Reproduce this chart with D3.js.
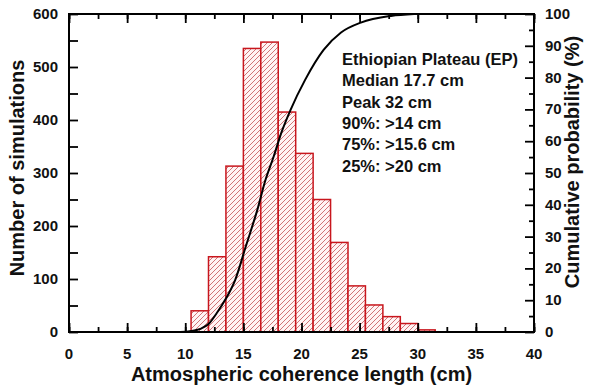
<!DOCTYPE html>
<html>
<head>
<meta charset="utf-8">
<script src="https://cdn.jsdelivr.net/npm/d3@7"></script>
<style>
  body { margin: 0; background: #fff; }
  text { font-family: "Liberation Sans", Arial, sans-serif; font-weight: bold; fill: #111; }
</style>
</head>
<body>
<svg width="600" height="386"></svg>
<script>
// histogram bins (cm) and counts
const binEdges = [10.5, 12, 13.5, 15, 16.5, 18, 19.5, 21, 22.5, 24, 25.5, 27, 28.5, 30, 31.5];
const counts = [40, 142, 313, 535, 547, 415, 337, 250, 169, 87, 51, 29, 16, 4];

// cumulative probability curve (cm, %)
const cumX = [9, 10, 10.5, 11.3, 12, 12.7, 13.5, 14.3, 15.2, 16.2, 16.9, 17.6, 18.3, 19.05, 20.3, 21.9, 23.4, 25.1, 27.7, 29.7];
const cumP = [0, 0.1, 0.3, 1, 2.5, 5.9, 10.5, 16.4, 26.8, 38.4, 47.8, 55.1, 63, 69.8, 79.2, 88.7, 94.2, 97.3, 99.4, 100];

const xTicks = [0, 5, 10, 15, 20, 25, 30, 35, 40];
const yLeftTicks = [0, 100, 200, 300, 400, 500, 600];
const yRightTicks = [0, 10, 20, 30, 40, 50, 60, 70, 80, 90, 100];

const notes = ["Ethiopian Plateau (EP)", "Median 17.7 cm", "Peak 32 cm", "90%: >14 cm", "75%: >15.6 cm", "25%: >20 cm"];

const svg = d3.select("svg");
const L = 69, R = 534, T = 14, B = 332;

const xs = d3.scaleLinear().domain([0, 40]).range([L, R]);
const yl = d3.scaleLinear().domain([0, 600]).range([B, T]);
const yr = d3.scaleLinear().domain([0, 100]).range([B, T]);

// hatch pattern
const defs = svg.append("defs");
const pat = defs.append("pattern")
  .attr("id", "hatch")
  .attr("patternUnits", "userSpaceOnUse")
  .attr("width", 5).attr("height", 5);
pat.append("rect").attr("width", 5).attr("height", 5).attr("fill", "#fff4f4");
pat.append("path")
  .attr("d", "M0,5 L5,0 M-1,1 L1,-1 M4,6 L6,4")
  .attr("stroke", "#c24a4d")
  .attr("stroke-width", 0.75);

// bars
svg.append("g").selectAll("rect")
  .data(counts)
  .join("rect")
  .attr("x", (d, i) => xs(binEdges[i]))
  .attr("width", (d, i) => xs(binEdges[i + 1]) - xs(binEdges[i]))
  .attr("y", d => yl(d))
  .attr("height", d => yl(0) - yl(d))
  .attr("fill", "url(#hatch)")
  .attr("stroke", "#c8161d")
  .attr("stroke-width", 1.5);

// cumulative line
const line = d3.line()
  .x(d => xs(d[0]))
  .y(d => yr(d[1]))
  .curve(d3.curveMonotoneX);

svg.append("path")
  .datum(cumX.map((x, i) => [x, cumP[i]]))
  .attr("fill", "none")
  .attr("stroke", "#000")
  .attr("stroke-width", 2)
  .attr("d", line);

const xMinor = d3.range(0, 40.1, 2.5);

// bottom
const gb = svg.append("g").attr("transform", `translate(0,${B})`);
gb.call(d3.axisTop(xs).tickValues(xMinor).tickSize(5).tickFormat(""));
gb.call(g => g.select(".domain").remove());
gb.append("g").call(d3.axisTop(xs).tickValues(xTicks).tickSize(9).tickFormat(""))
  .call(g => g.select(".domain").remove());
gb.selectAll("line").attr("stroke", "#000").attr("stroke-width", 1.8);
gb.selectAll(".lbl").data(xTicks).join("text")
  .attr("x", d => xs(d)).attr("y", 27)
  .attr("text-anchor", "middle").attr("font-size", 15)
  .text(d => d);

// top
const gt = svg.append("g").attr("transform", `translate(0,${T})`);
gt.call(d3.axisBottom(xs).tickValues(xMinor).tickSize(5).tickFormat(""));
gt.call(g => g.select(".domain").remove());
gt.append("g").call(d3.axisBottom(xs).tickValues(xTicks).tickSize(9).tickFormat(""))
  .call(g => g.select(".domain").remove());
gt.selectAll("line").attr("stroke", "#000").attr("stroke-width", 1.8);

// left
const gl = svg.append("g").attr("transform", `translate(${L},0)`);
gl.call(d3.axisRight(yl).tickValues(d3.range(0, 601, 50)).tickSize(9).tickFormat(""));
gl.call(g => g.select(".domain").remove());
gl.selectAll("line").attr("stroke", "#000").attr("stroke-width", 1.8);
gl.selectAll(".lbl").data(yLeftTicks).join("text")
  .attr("x", -11).attr("y", d => yl(d) + 5)
  .attr("text-anchor", "end").attr("font-size", 15)
  .text(d => d);

// right
const gr = svg.append("g").attr("transform", `translate(${R},0)`);
gr.call(d3.axisLeft(yr).tickValues(d3.range(5, 100, 10)).tickSize(5).tickFormat(""));
gr.call(g => g.select(".domain").remove());
gr.append("g").call(d3.axisLeft(yr).tickValues(yRightTicks).tickSize(9).tickFormat(""))
  .call(g => g.select(".domain").remove());
gr.selectAll("line").attr("stroke", "#000").attr("stroke-width", 1.8);
gr.selectAll(".lbl").data(yRightTicks).join("text")
  .attr("x", 11).attr("y", d => yr(d) + 5)
  .attr("text-anchor", "start").attr("font-size", 15)
  .text(d => d);

// frame
svg.append("rect")
  .attr("x", L).attr("y", T)
  .attr("width", R - L).attr("height", B - T)
  .attr("fill", "none").attr("stroke", "#000").attr("stroke-width", 2);

// titles
svg.append("text")
  .attr("x", (L + R) / 2).attr("y", 381)
  .attr("text-anchor", "middle").attr("font-size", 20)
  .text("Atmospheric coherence length (cm)");

svg.append("text")
  .attr("transform", "translate(24,168) rotate(-90)")
  .attr("text-anchor", "middle").attr("font-size", 20)
  .text("Number of simulations");

svg.append("text")
  .attr("transform", "translate(579,162) rotate(-90)")
  .attr("text-anchor", "middle").attr("font-size", 20)
  .text("Cumulative probability (%)");

// annotation block
svg.append("g").selectAll("text")
  .data(notes)
  .join("text")
  .attr("x", 342)
  .attr("y", (d, i) => 65 + i * 21.3)
  .attr("font-size", 16.5)
  .text(d => d);
</script>
</body>
</html>
